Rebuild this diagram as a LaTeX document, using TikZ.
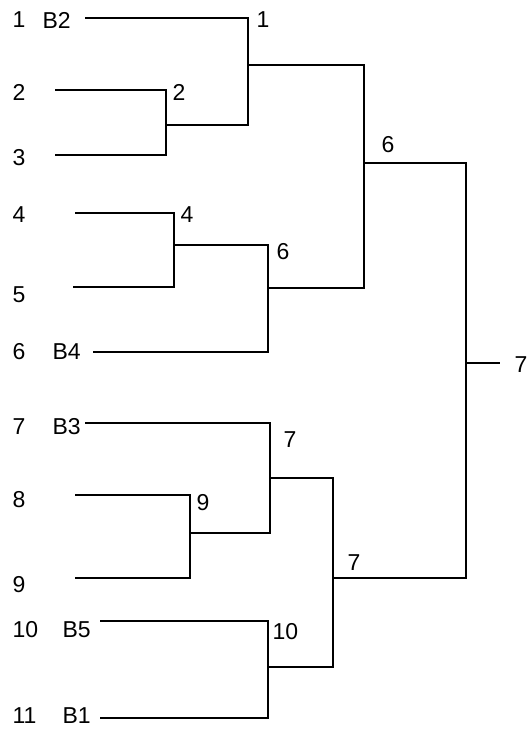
\documentclass[tikz,border=0pt]{standalone}
\usepackage{fontspec}
\setmainfont{Liberation Sans}
\begin{document}
\begin{tikzpicture}[x=1pt,y=-1pt,line width=1.2pt,
  lbl/.style={anchor=west,inner sep=0pt,font=\fontsize{23}{27}\selectfont}]

\useasboundingbox (0,0) rectangle (528,730);

% leaf labels
\node[lbl] (n1) at (12,20) {1};   \node[lbl] (b2) at (42,20) {B2};
\node[lbl] (n2) at (12,92) {2};
\node[lbl] (n3) at (12,158) {3};
\node[lbl] (n4) at (12,215) {4};
\node[lbl] (n5) at (12,295) {5};
\node[lbl] (n6) at (12,352) {6};  \node[lbl] (b4) at (52,352) {B4};
\node[lbl] (n7) at (12,427) {7};  \node[lbl] (b3) at (52,427) {B3};
\node[lbl] (n8) at (12,500) {8};
\node[lbl] (n9) at (12,585) {9};
\node[lbl] (n10) at (12,630) {10}; \node[lbl] (b5) at (62,630) {B5};
\node[lbl] (n11) at (12,716) {11}; \node[lbl] (b1) at (62,716) {B1};

% leaf line starts
\coordinate (l1) at (85,18);
\coordinate (l2) at (55,90);
\coordinate (l3) at (55,155);
\coordinate (l4) at (75,213);
\coordinate (l5) at (73,287);
\coordinate (l6) at (93,352);
\coordinate (l7) at (85,423);
\coordinate (l8) at (75,495);
\coordinate (l9) at (75,578);
\coordinate (l10) at (100,621);
\coordinate (l11) at (100,718);

% joins
\coordinate (j2) at (166,125);
\coordinate (j1) at (248,65);
\coordinate (j4) at (174,245);
\coordinate (j6a) at (268,288);
\coordinate (j6b) at (364,163);
\coordinate (j9) at (190,533);
\coordinate (j7a) at (270,478);
\coordinate (j10) at (268,667);
\coordinate (j7b) at (333,578);
\coordinate (j7c) at (466,363);
\coordinate (out) at (500,363);

\draw (l2) -| (j2) |- (l3);
\draw (l1) -| (j1) |- (j2);
\draw (l4) -| (j4) |- (l5);
\draw (j4) -| (j6a) |- (l6);
\draw (j1) -| (j6b) |- (j6a);
\draw (l8) -| (j9) |- (l9);
\draw (l7) -| (j7a) |- (j9);
\draw (l10) -| (j10) |- (l11);
\draw (j7a) -| (j7b) |- (j10);
\draw (j6b) -| (j7c) |- (j7b);
\draw (j7c) -- (out);

% join labels
\node[lbl] (t1) at (256,20) {1};
\node[lbl] (t2) at (172,92) {2};
\node[lbl] (t4) at (180,215) {4};
\node[lbl] (t6a) at (276,252) {6};
\node[lbl] (t6b) at (381,145) {6};
\node[lbl] (t9) at (196,503) {9};
\node[lbl] (t7a) at (283,440) {7};
\node[lbl] (t10) at (272,632) {10};
\node[lbl] (t7b) at (347,563) {7};
\node[lbl] (t7c) at (514,365) {7};
\end{tikzpicture}
\end{document}
